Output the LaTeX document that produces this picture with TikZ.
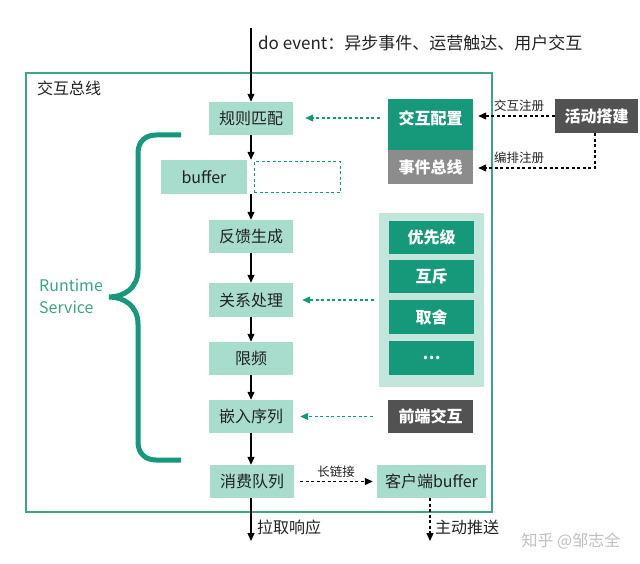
\documentclass[tikz,border=0pt]{standalone}
\usepackage{fontspec}
\setmainfont{Noto Sans CJK SC}
\usetikzlibrary{arrows.meta}
\definecolor{frameteal}{HTML}{3AA58A}
\definecolor{braceteal}{HTML}{17987C}
\definecolor{lightteal}{HTML}{A8DCCC}
\definecolor{panelteal}{HTML}{C2E6DB}
\definecolor{darkteal}{HTML}{16987B}
\definecolor{midgray}{HTML}{8C8C8C}
\definecolor{darkgray}{HTML}{525252}
\definecolor{txt}{HTML}{222222}
\begin{document}
\begin{tikzpicture}[x=1pt,y=-1pt,
  lbox/.style={fill=lightteal, text=txt, minimum width=84pt, minimum height=33pt, inner sep=0pt, font=\fontsize{16}{18}\selectfont},
  dbox/.style={fill=darkteal, text=white, minimum width=85pt, minimum height=33pt, inner sep=0pt, font=\fontsize{16}{18}\selectfont\bfseries},
  gbox/.style={fill=darkgray, text=white, minimum width=85pt, minimum height=34pt, inner sep=0pt, font=\fontsize{16}{18}\selectfont\bfseries},
  lab/.style={text=txt, inner sep=0pt, font=\fontsize{16}{18}\selectfont},
  slab/.style={text=txt, inner sep=0pt, font=\fontsize{12.5}{14}\selectfont},
  solidarrow/.style={draw=black, line width=1.1pt, -{Triangle[length=8pt,width=7pt]}},
  blackdash/.style={draw=black, line width=1.1pt, dash pattern=on 3pt off 2.5pt, -{Triangle[length=8pt,width=7pt]}},
  tealdash/.style={draw=darkteal, line width=1.1pt, dash pattern=on 3pt off 2.5pt, -{Triangle[length=8pt,width=7pt]}},
]
\fill[white] (0,0) rectangle (640,564);
\useasboundingbox (0,0) rectangle (640,564);

% frame
\draw[frameteal, line width=1.6pt] (26,73) rectangle (492,512);
\node[lab, anchor=west] (title) at (37,88) {交互总线};

% main column
\node[lbox] (rule) at (251,118.5) {规则匹配};
\node[lbox, minimum width=86pt, minimum height=34pt] (buf) at (204,177) {buffer};
\node[draw=darkteal, dash pattern=on 3pt off 2.5pt, line width=1pt, minimum width=86pt, minimum height=31pt, inner sep=0pt] (bufd) at (297,177.5) {};
\node[lbox] (fb) at (251,236.5) {反馈生成};
\node[lbox, minimum height=34pt] (rel) at (251,300) {关系处理};
\node[lbox] (freq) at (251,358.5) {限频};
\node[lbox] (emb) at (251,416.5) {嵌入序列};
\node[lbox] (cons) at (252,481.5) {消费队列};

% right side
\node[dbox, minimum height=51pt] (cfg) at (430.5,124.5) {};
\node[lab, text=white, font=\fontsize{16}{18}\selectfont\bfseries] (cfgl) at (430.5,118) {交互配置};
\node[fill=midgray, text=white, minimum width=85pt, minimum height=34pt, inner sep=0pt, font=\fontsize{16}{18}\selectfont\bfseries] (bus) at (430.5,167) {事件总线};
\node[gbox, minimum width=83pt] (act) at (596.5,116) {活动搭建};

\node[fill=panelteal, minimum width=105pt, minimum height=174pt, inner sep=0pt] (panel) at (431.5,300) {};
\node[dbox] (p1) at (431.5,237.5) {优先级};
\node[dbox] (p2) at (431.5,276.5) {互斥};
\node[dbox, minimum height=34pt] (p3) at (431.5,317) {取舍};
\node[dbox, minimum height=34pt] (p4) at (431.5,358) {…};

\node[gbox, minimum height=33pt] (fe) at (430.5,416.5) {前端交互};
\node[lbox, minimum width=109pt] (cli) at (431.5,481.5) {客户端buffer};

% brace
\draw[braceteal, line width=5pt]
  (181,135) -- (156,135) .. controls (145,135) and (138,142) .. (138,153)
  -- (138,270) .. controls (138,288) and (124,297) .. (109,297)
  .. controls (124,297) and (138,306) .. (138,324)
  -- (138,442) .. controls (138,453) and (145,460) .. (156,460) -- (181,460);
\node[text=frameteal, align=left, inner sep=0pt, font=\fontsize{16}{22}\selectfont] (rs) at (71,296) {Runtime\\Service};

% main arrows
\coordinate (top) at (251,28);
\draw[solidarrow] (top) -- (rule.north);
\node[lab, anchor=west, font=\fontsize{17}{20}\selectfont] (ev) at (258,43) {do event：异步事件、运营触达、用户交互};
\draw[solidarrow] (rule.south) -- (rule.south |- buf.north);
\draw[solidarrow] (rule.south |- buf.south) -- (fb.north);
\draw[solidarrow] (fb.south) -- (rel.north);
\draw[solidarrow] (rel.south) -- (freq.north);
\draw[solidarrow] (freq.south) -- (emb.north);
\draw[solidarrow] (emb.south) -- (emb.south |- cons.north);

% dashed connectors
\draw[tealdash, shorten <=8pt, shorten >=12pt] (cfgl -| cfg.west) -- (cfgl -| rule.east);
\draw[tealdash, shorten <=5pt, shorten >=9pt] (panel.west) -- (rel.east);
\draw[tealdash, shorten <=15pt, shorten >=7pt] (fe.west) -- (emb.east);

\draw[blackdash, shorten >=5pt] (act.west) -- (act.west -| cfg.east);
\node[slab] (l1) at (519,106) {交互注册};
\coordinate (bend) at (595,168);
\draw[blackdash, shorten >=5pt] (act.south -| bend) -- (bend) -- (bend -| bus.east);
\node[slab] (l2) at (519,158) {编排注册};

\draw[blackdash, shorten <=6pt, shorten >=4pt] (cons.east) -- (cli.west);
\node[slab] (l3) at (336,472) {长链接};

\coordinate (pullend) at (251,541);
\draw[solidarrow] (cons.south -| pullend) -- (pullend);
\node[lab, anchor=west] (l4) at (257,527) {拉取响应};
\coordinate (pushend) at (430,541);
\draw[blackdash] (cli.south -| pushend) -- (pushend);
\node[lab, anchor=west] (l5) at (435,527) {主动推送};

\node[text=black!25, inner sep=0pt, font=\fontsize{16}{18}\selectfont] (wm) at (571,541) {知乎 @邹志全};
\end{tikzpicture}
\end{document}
